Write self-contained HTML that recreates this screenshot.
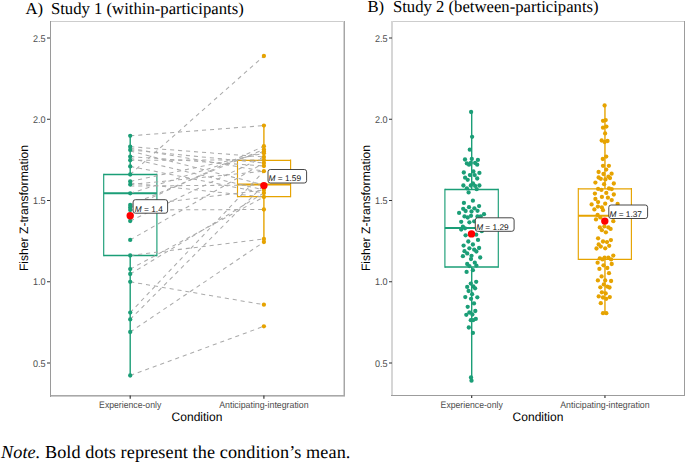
<!DOCTYPE html><html><head><meta charset="utf-8"><style>html,body{margin:0;padding:0;background:#fff;}svg{display:block}text{text-rendering:geometricPrecision}.s{font-family:"Liberation Sans",sans-serif}.r{font-family:"Liberation Serif",serif}</style></head><body>
<svg width="685" height="462" viewBox="0 0 685 462">
<rect width="685" height="462" fill="#fff"/>
<rect x="50" y="21" width="295" height="1" fill="#cdcdcd"/>
<rect x="343" y="21" width="1" height="375" fill="#d4d4d4"/>
<rect x="344" y="21" width="1" height="376" fill="#a6a6a6"/>
<rect x="50" y="395" width="295" height="1" fill="#a8a8a8"/>
<rect x="50" y="396" width="295" height="1" fill="#cbcbcb"/>
<rect x="50" y="21" width="1" height="376" fill="#9a9a9a"/>
<line x1="47" y1="38.00" x2="50" y2="38.00" stroke="#333" stroke-width="1"/>
<text x="45.5" y="41.65" text-anchor="end" class="s" font-size="9.7" textLength="12.6" lengthAdjust="spacingAndGlyphs" fill="#4d4d4d">2.5</text>
<line x1="47" y1="119.25" x2="50" y2="119.25" stroke="#333" stroke-width="1"/>
<text x="45.5" y="122.90" text-anchor="end" class="s" font-size="9.7" textLength="12.6" lengthAdjust="spacingAndGlyphs" fill="#4d4d4d">2.0</text>
<line x1="47" y1="200.50" x2="50" y2="200.50" stroke="#333" stroke-width="1"/>
<text x="45.5" y="204.15" text-anchor="end" class="s" font-size="9.7" textLength="12.6" lengthAdjust="spacingAndGlyphs" fill="#4d4d4d">1.5</text>
<line x1="47" y1="281.75" x2="50" y2="281.75" stroke="#333" stroke-width="1"/>
<text x="45.5" y="285.40" text-anchor="end" class="s" font-size="9.7" textLength="12.6" lengthAdjust="spacingAndGlyphs" fill="#4d4d4d">1.0</text>
<line x1="47" y1="363.00" x2="50" y2="363.00" stroke="#333" stroke-width="1"/>
<text x="45.5" y="366.65" text-anchor="end" class="s" font-size="9.7" textLength="12.6" lengthAdjust="spacingAndGlyphs" fill="#4d4d4d">0.5</text>
<line x1="130.2" y1="395.5" x2="130.2" y2="398.8" stroke="#2a2a2a" stroke-width="1.1"/>
<text x="130.2" y="408.0" text-anchor="middle" class="s" font-size="9.4" textLength="62.2" lengthAdjust="spacingAndGlyphs" fill="#4d4d4d">Experience-only</text>
<line x1="263.9" y1="395.5" x2="263.9" y2="398.8" stroke="#2a2a2a" stroke-width="1.1"/>
<text x="263.9" y="408.0" text-anchor="middle" class="s" font-size="9.4" textLength="89.4" lengthAdjust="spacingAndGlyphs" fill="#4d4d4d">Anticipating-integration</text>
<text x="197.0" y="421.2" text-anchor="middle" class="s" font-size="12.3" textLength="50.8" lengthAdjust="spacingAndGlyphs" fill="#000">Condition</text>
<text transform="translate(28.2,208) rotate(-90)" text-anchor="middle" class="s" font-size="12.15" fill="#000">Fisher Z-transformation</text>
<text x="25.4" y="13.6" class="r" font-size="16.7" fill="#000">A)</text>
<text x="50.9" y="13.6" class="r" font-size="16.7" fill="#000">Study 1 (within-participants)</text>
<rect x="391" y="21" width="294" height="1" fill="#cdcdcd"/>
<rect x="684" y="21" width="1" height="375" fill="#9c9c9c"/>
<rect x="391" y="395" width="294" height="1" fill="#9c9c9c"/>
<rect x="391" y="21" width="2" height="374" fill="#d6d6d6"/>
<line x1="389" y1="38.00" x2="392" y2="38.00" stroke="#333" stroke-width="1"/>
<text x="387.5" y="41.65" text-anchor="end" class="s" font-size="9.7" textLength="12.6" lengthAdjust="spacingAndGlyphs" fill="#4d4d4d">2.5</text>
<line x1="389" y1="119.25" x2="392" y2="119.25" stroke="#333" stroke-width="1"/>
<text x="387.5" y="122.90" text-anchor="end" class="s" font-size="9.7" textLength="12.6" lengthAdjust="spacingAndGlyphs" fill="#4d4d4d">2.0</text>
<line x1="389" y1="200.50" x2="392" y2="200.50" stroke="#333" stroke-width="1"/>
<text x="387.5" y="204.15" text-anchor="end" class="s" font-size="9.7" textLength="12.6" lengthAdjust="spacingAndGlyphs" fill="#4d4d4d">1.5</text>
<line x1="389" y1="281.75" x2="392" y2="281.75" stroke="#333" stroke-width="1"/>
<text x="387.5" y="285.40" text-anchor="end" class="s" font-size="9.7" textLength="12.6" lengthAdjust="spacingAndGlyphs" fill="#4d4d4d">1.0</text>
<line x1="389" y1="363.00" x2="392" y2="363.00" stroke="#333" stroke-width="1"/>
<text x="387.5" y="366.65" text-anchor="end" class="s" font-size="9.7" textLength="12.6" lengthAdjust="spacingAndGlyphs" fill="#4d4d4d">0.5</text>
<line x1="471.7" y1="395.5" x2="471.7" y2="398.0" stroke="#2a2a2a" stroke-width="1.1"/>
<text x="471.7" y="408.0" text-anchor="middle" class="s" font-size="9.4" textLength="62.2" lengthAdjust="spacingAndGlyphs" fill="#4d4d4d">Experience-only</text>
<line x1="604.95" y1="395.5" x2="604.95" y2="398.0" stroke="#2a2a2a" stroke-width="1.1"/>
<text x="604.95" y="408.0" text-anchor="middle" class="s" font-size="9.4" textLength="89.4" lengthAdjust="spacingAndGlyphs" fill="#4d4d4d">Anticipating-integration</text>
<text x="538.0" y="421.2" text-anchor="middle" class="s" font-size="12.3" textLength="50.8" lengthAdjust="spacingAndGlyphs" fill="#000">Condition</text>
<text transform="translate(370.2,208) rotate(-90)" text-anchor="middle" class="s" font-size="12.15" fill="#000">Fisher Z-transformation</text>
<text x="367.4" y="12.1" class="r" font-size="16.7" fill="#000">B)</text>
<text x="392.9" y="12.1" class="r" font-size="16.7" fill="#000">Study 2 (between-participants)</text>
<line x1="130.2" y1="135.8" x2="130.2" y2="174.5" stroke="#1b9e77" stroke-width="1.4"/>
<line x1="130.2" y1="255.5" x2="130.2" y2="375.5" stroke="#1b9e77" stroke-width="1.4"/>
<path d="M103.7,174.5H156.9M103.7,255.5H156.9" stroke="#1b9e77" stroke-width="1.3" fill="none"/>
<path d="M103.7,173.8V256.2M156.9,173.8V256.2" stroke="#1b9e77" stroke-width="1.15" fill="none"/>
<line x1="103.7" y1="193.2" x2="156.9" y2="193.2" stroke="#1b9e77" stroke-width="2.1"/>
<line x1="263.9" y1="125.6" x2="263.9" y2="160.3" stroke="#e6a300" stroke-width="1.4"/>
<line x1="263.9" y1="196.6" x2="263.9" y2="242" stroke="#e6a300" stroke-width="1.4"/>
<path d="M237.5,160.3H290.6M237.5,196.6H290.6" stroke="#e6a300" stroke-width="1.3" fill="none"/>
<path d="M237.5,159.60000000000002V197.29999999999998M290.6,159.60000000000002V197.29999999999998" stroke="#e6a300" stroke-width="1.15" fill="none"/>
<line x1="237.5" y1="184.5" x2="290.6" y2="184.5" stroke="#e6a300" stroke-width="2.1"/>
<line x1="130.2" y1="135.8" x2="263.9" y2="125.6" stroke="#ababab" stroke-width="1.05" stroke-dasharray="4.1,3.9"/>
<line x1="130.2" y1="146.7" x2="263.9" y2="157" stroke="#ababab" stroke-width="1.05" stroke-dasharray="4.1,3.9"/>
<line x1="130.2" y1="149.9" x2="263.9" y2="163" stroke="#ababab" stroke-width="1.05" stroke-dasharray="4.1,3.9"/>
<line x1="130.2" y1="156.6" x2="263.9" y2="166" stroke="#ababab" stroke-width="1.05" stroke-dasharray="4.1,3.9"/>
<line x1="130.2" y1="160.2" x2="263.9" y2="160" stroke="#ababab" stroke-width="1.05" stroke-dasharray="4.1,3.9"/>
<line x1="130.2" y1="166.4" x2="263.9" y2="193" stroke="#ababab" stroke-width="1.05" stroke-dasharray="4.1,3.9"/>
<line x1="130.2" y1="174.5" x2="263.9" y2="56" stroke="#ababab" stroke-width="1.05" stroke-dasharray="4.1,3.9"/>
<line x1="130.2" y1="181.4" x2="263.9" y2="153.3" stroke="#ababab" stroke-width="1.05" stroke-dasharray="4.1,3.9"/>
<line x1="130.2" y1="184.6" x2="263.9" y2="171.2" stroke="#ababab" stroke-width="1.05" stroke-dasharray="4.1,3.9"/>
<line x1="130.2" y1="193.3" x2="263.9" y2="151.5" stroke="#ababab" stroke-width="1.05" stroke-dasharray="4.1,3.9"/>
<line x1="130.2" y1="205" x2="263.9" y2="149.4" stroke="#ababab" stroke-width="1.05" stroke-dasharray="4.1,3.9"/>
<line x1="130.2" y1="207.5" x2="263.9" y2="146.2" stroke="#ababab" stroke-width="1.05" stroke-dasharray="4.1,3.9"/>
<line x1="130.2" y1="210" x2="263.9" y2="209.5" stroke="#ababab" stroke-width="1.05" stroke-dasharray="4.1,3.9"/>
<line x1="130.2" y1="221" x2="263.9" y2="157" stroke="#ababab" stroke-width="1.05" stroke-dasharray="4.1,3.9"/>
<line x1="130.2" y1="239.9" x2="263.9" y2="163" stroke="#ababab" stroke-width="1.05" stroke-dasharray="4.1,3.9"/>
<line x1="130.2" y1="255.5" x2="263.9" y2="239" stroke="#ababab" stroke-width="1.05" stroke-dasharray="4.1,3.9"/>
<line x1="130.2" y1="269.1" x2="263.9" y2="197" stroke="#ababab" stroke-width="1.05" stroke-dasharray="4.1,3.9"/>
<line x1="130.2" y1="274" x2="263.9" y2="193" stroke="#ababab" stroke-width="1.05" stroke-dasharray="4.1,3.9"/>
<line x1="130.2" y1="281.8" x2="263.9" y2="304.7" stroke="#ababab" stroke-width="1.05" stroke-dasharray="4.1,3.9"/>
<line x1="130.2" y1="312.6" x2="263.9" y2="171.2" stroke="#ababab" stroke-width="1.05" stroke-dasharray="4.1,3.9"/>
<line x1="130.2" y1="319.4" x2="263.9" y2="185" stroke="#ababab" stroke-width="1.05" stroke-dasharray="4.1,3.9"/>
<line x1="130.2" y1="332" x2="263.9" y2="242" stroke="#ababab" stroke-width="1.05" stroke-dasharray="4.1,3.9"/>
<line x1="130.2" y1="375.5" x2="263.9" y2="326.3" stroke="#ababab" stroke-width="1.05" stroke-dasharray="4.1,3.9"/>
<line x1="130.2" y1="148.3" x2="263.9" y2="171.2" stroke="#ababab" stroke-width="1.05" stroke-dasharray="4.1,3.9"/>
<line x1="130.2" y1="151" x2="263.9" y2="185" stroke="#ababab" stroke-width="1.05" stroke-dasharray="4.1,3.9"/>
<line x1="130.2" y1="158.3" x2="263.9" y2="190" stroke="#ababab" stroke-width="1.05" stroke-dasharray="4.1,3.9"/>
<line x1="130.2" y1="183" x2="263.9" y2="197" stroke="#ababab" stroke-width="1.05" stroke-dasharray="4.1,3.9"/>
<line x1="130.2" y1="186" x2="263.9" y2="185" stroke="#ababab" stroke-width="1.05" stroke-dasharray="4.1,3.9"/>
<line x1="130.2" y1="206.2" x2="263.9" y2="190" stroke="#ababab" stroke-width="1.05" stroke-dasharray="4.1,3.9"/>
<circle cx="130.2" cy="135.8" r="2.15" fill="#1b9e77"/>
<circle cx="130.2" cy="146.7" r="2.15" fill="#1b9e77"/>
<circle cx="130.2" cy="149.9" r="2.15" fill="#1b9e77"/>
<circle cx="130.2" cy="156.6" r="2.15" fill="#1b9e77"/>
<circle cx="130.2" cy="160.2" r="2.15" fill="#1b9e77"/>
<circle cx="130.2" cy="166.4" r="2.15" fill="#1b9e77"/>
<circle cx="130.2" cy="174.5" r="2.15" fill="#1b9e77"/>
<circle cx="130.2" cy="181.4" r="2.15" fill="#1b9e77"/>
<circle cx="130.2" cy="184.6" r="2.15" fill="#1b9e77"/>
<circle cx="130.2" cy="193.3" r="2.15" fill="#1b9e77"/>
<circle cx="130.2" cy="205" r="2.15" fill="#1b9e77"/>
<circle cx="130.2" cy="207.5" r="2.15" fill="#1b9e77"/>
<circle cx="130.2" cy="210" r="2.15" fill="#1b9e77"/>
<circle cx="130.2" cy="221" r="2.15" fill="#1b9e77"/>
<circle cx="130.2" cy="239.9" r="2.15" fill="#1b9e77"/>
<circle cx="130.2" cy="255.5" r="2.15" fill="#1b9e77"/>
<circle cx="130.2" cy="269.1" r="2.15" fill="#1b9e77"/>
<circle cx="130.2" cy="274" r="2.15" fill="#1b9e77"/>
<circle cx="130.2" cy="281.8" r="2.15" fill="#1b9e77"/>
<circle cx="130.2" cy="312.6" r="2.15" fill="#1b9e77"/>
<circle cx="130.2" cy="319.4" r="2.15" fill="#1b9e77"/>
<circle cx="130.2" cy="332" r="2.15" fill="#1b9e77"/>
<circle cx="130.2" cy="375.5" r="2.15" fill="#1b9e77"/>
<circle cx="263.9" cy="56" r="2.15" fill="#e6a300"/>
<circle cx="263.9" cy="125.6" r="2.15" fill="#e6a300"/>
<circle cx="263.9" cy="146.2" r="2.15" fill="#e6a300"/>
<circle cx="263.9" cy="149.4" r="2.15" fill="#e6a300"/>
<circle cx="263.9" cy="151.5" r="2.15" fill="#e6a300"/>
<circle cx="263.9" cy="153.3" r="2.15" fill="#e6a300"/>
<circle cx="263.9" cy="157" r="2.15" fill="#e6a300"/>
<circle cx="263.9" cy="160" r="2.15" fill="#e6a300"/>
<circle cx="263.9" cy="163" r="2.15" fill="#e6a300"/>
<circle cx="263.9" cy="166" r="2.15" fill="#e6a300"/>
<circle cx="263.9" cy="171.2" r="2.15" fill="#e6a300"/>
<circle cx="263.9" cy="185" r="2.15" fill="#e6a300"/>
<circle cx="263.9" cy="190" r="2.15" fill="#e6a300"/>
<circle cx="263.9" cy="193" r="2.15" fill="#e6a300"/>
<circle cx="263.9" cy="197" r="2.15" fill="#e6a300"/>
<circle cx="263.9" cy="209.5" r="2.15" fill="#e6a300"/>
<circle cx="263.9" cy="239" r="2.15" fill="#e6a300"/>
<circle cx="263.9" cy="242" r="2.15" fill="#e6a300"/>
<circle cx="263.9" cy="304.7" r="2.15" fill="#e6a300"/>
<circle cx="263.9" cy="326.3" r="2.15" fill="#e6a300"/>
<circle cx="130.2" cy="215.8" r="3.7" fill="#ff0000"/>
<circle cx="263.9" cy="185.6" r="3.7" fill="#ff0000"/>
<rect x="133.10" y="199.70" width="34.50" height="13.5" rx="2.3" fill="#fff" stroke="#333" stroke-width="0.9"/>
<text x="134.85" y="211.50" class="s" font-size="8.3" fill="#111"><tspan font-style="italic">M</tspan> = 1.4</text>
<rect x="268.00" y="169.50" width="38.60" height="13.5" rx="2.3" fill="#fff" stroke="#333" stroke-width="0.9"/>
<text x="268.55" y="181.30" class="s" font-size="8.3" fill="#111"><tspan font-style="italic">M</tspan> = 1.59</text>
<line x1="471.7" y1="112" x2="471.7" y2="189.5" stroke="#1b9e77" stroke-width="1.4"/>
<line x1="471.7" y1="267" x2="471.7" y2="380.7" stroke="#1b9e77" stroke-width="1.4"/>
<path d="M444.9,189.5H498.3M444.9,267H498.3" stroke="#1b9e77" stroke-width="1.3" fill="none"/>
<path d="M444.9,188.8V267.7M498.3,188.8V267.7" stroke="#1b9e77" stroke-width="1.15" fill="none"/>
<line x1="444.9" y1="228" x2="498.3" y2="228" stroke="#1b9e77" stroke-width="2.1"/>
<line x1="604.95" y1="105.5" x2="604.95" y2="188.8" stroke="#e6a300" stroke-width="1.4"/>
<line x1="604.95" y1="259.4" x2="604.95" y2="313.2" stroke="#e6a300" stroke-width="1.4"/>
<path d="M578.3,188.8H631.4M578.3,259.4H631.4" stroke="#e6a300" stroke-width="1.3" fill="none"/>
<path d="M578.3,188.10000000000002V260.09999999999997M631.4,188.10000000000002V260.09999999999997" stroke="#e6a300" stroke-width="1.15" fill="none"/>
<line x1="578.3" y1="215.7" x2="631.4" y2="215.7" stroke="#e6a300" stroke-width="2.1"/>
<circle cx="471.1" cy="112" r="2.15" fill="#1b9e77"/>
<circle cx="472.1" cy="136.8" r="2.15" fill="#1b9e77"/>
<circle cx="469.8" cy="149.7" r="2.15" fill="#1b9e77"/>
<circle cx="465" cy="159.5" r="2.15" fill="#1b9e77"/>
<circle cx="471.8" cy="158.9" r="2.15" fill="#1b9e77"/>
<circle cx="477.9" cy="159.9" r="2.15" fill="#1b9e77"/>
<circle cx="466.9" cy="163.4" r="2.15" fill="#1b9e77"/>
<circle cx="469" cy="164.7" r="2.15" fill="#1b9e77"/>
<circle cx="470.8" cy="163" r="2.15" fill="#1b9e77"/>
<circle cx="475.1" cy="163" r="2.15" fill="#1b9e77"/>
<circle cx="477.2" cy="164.7" r="2.15" fill="#1b9e77"/>
<circle cx="463.8" cy="172.5" r="2.15" fill="#1b9e77"/>
<circle cx="473.4" cy="171.5" r="2.15" fill="#1b9e77"/>
<circle cx="479.4" cy="172.9" r="2.15" fill="#1b9e77"/>
<circle cx="469.9" cy="175.1" r="2.15" fill="#1b9e77"/>
<circle cx="474.7" cy="175.1" r="2.15" fill="#1b9e77"/>
<circle cx="465.1" cy="177.7" r="2.15" fill="#1b9e77"/>
<circle cx="467.7" cy="179.8" r="2.15" fill="#1b9e77"/>
<circle cx="477.2" cy="178.5" r="2.15" fill="#1b9e77"/>
<circle cx="463.4" cy="185.5" r="2.15" fill="#1b9e77"/>
<circle cx="470.8" cy="185.5" r="2.15" fill="#1b9e77"/>
<circle cx="472.9" cy="183.3" r="2.15" fill="#1b9e77"/>
<circle cx="475.1" cy="185.9" r="2.15" fill="#1b9e77"/>
<circle cx="479.4" cy="185.5" r="2.15" fill="#1b9e77"/>
<circle cx="466.9" cy="188.3" r="2.15" fill="#1b9e77"/>
<circle cx="476.7" cy="189.2" r="2.15" fill="#1b9e77"/>
<circle cx="468.6" cy="192.4" r="2.15" fill="#1b9e77"/>
<circle cx="472.9" cy="200.7" r="2.15" fill="#1b9e77"/>
<circle cx="463.9" cy="202.9" r="2.15" fill="#1b9e77"/>
<circle cx="469" cy="207.2" r="2.15" fill="#1b9e77"/>
<circle cx="479.1" cy="206.1" r="2.15" fill="#1b9e77"/>
<circle cx="463.2" cy="208.8" r="2.15" fill="#1b9e77"/>
<circle cx="465.6" cy="211" r="2.15" fill="#1b9e77"/>
<circle cx="474.4" cy="208.3" r="2.15" fill="#1b9e77"/>
<circle cx="459.1" cy="212.9" r="2.15" fill="#1b9e77"/>
<circle cx="471.5" cy="211.5" r="2.15" fill="#1b9e77"/>
<circle cx="477.5" cy="210.8" r="2.15" fill="#1b9e77"/>
<circle cx="464.5" cy="216.4" r="2.15" fill="#1b9e77"/>
<circle cx="467.7" cy="217.5" r="2.15" fill="#1b9e77"/>
<circle cx="471" cy="215.8" r="2.15" fill="#1b9e77"/>
<circle cx="477.5" cy="216.4" r="2.15" fill="#1b9e77"/>
<circle cx="484" cy="214.2" r="2.15" fill="#1b9e77"/>
<circle cx="480.7" cy="216.4" r="2.15" fill="#1b9e77"/>
<circle cx="461.2" cy="221.8" r="2.15" fill="#1b9e77"/>
<circle cx="469.4" cy="222.3" r="2.15" fill="#1b9e77"/>
<circle cx="474.2" cy="221.3" r="2.15" fill="#1b9e77"/>
<circle cx="462.9" cy="226.7" r="2.15" fill="#1b9e77"/>
<circle cx="461.2" cy="229.6" r="2.15" fill="#1b9e77"/>
<circle cx="465" cy="228.3" r="2.15" fill="#1b9e77"/>
<circle cx="481.8" cy="231.2" r="2.15" fill="#1b9e77"/>
<circle cx="465.6" cy="235.3" r="2.15" fill="#1b9e77"/>
<circle cx="476.2" cy="234.7" r="2.15" fill="#1b9e77"/>
<circle cx="468.3" cy="241.5" r="2.15" fill="#1b9e77"/>
<circle cx="478" cy="239.9" r="2.15" fill="#1b9e77"/>
<circle cx="463.6" cy="245.6" r="2.15" fill="#1b9e77"/>
<circle cx="472.9" cy="244.5" r="2.15" fill="#1b9e77"/>
<circle cx="469.4" cy="248.3" r="2.15" fill="#1b9e77"/>
<circle cx="479.1" cy="248" r="2.15" fill="#1b9e77"/>
<circle cx="464.5" cy="251.2" r="2.15" fill="#1b9e77"/>
<circle cx="474.2" cy="249.7" r="2.15" fill="#1b9e77"/>
<circle cx="467.2" cy="253.4" r="2.15" fill="#1b9e77"/>
<circle cx="476.4" cy="251.5" r="2.15" fill="#1b9e77"/>
<circle cx="462.9" cy="256.2" r="2.15" fill="#1b9e77"/>
<circle cx="471.5" cy="255.8" r="2.15" fill="#1b9e77"/>
<circle cx="480.2" cy="257.5" r="2.15" fill="#1b9e77"/>
<circle cx="471" cy="259.1" r="2.15" fill="#1b9e77"/>
<circle cx="467.2" cy="264" r="2.15" fill="#1b9e77"/>
<circle cx="474.8" cy="262.7" r="2.15" fill="#1b9e77"/>
<circle cx="469.4" cy="266.1" r="2.15" fill="#1b9e77"/>
<circle cx="476.4" cy="265.6" r="2.15" fill="#1b9e77"/>
<circle cx="466.6" cy="271.9" r="2.15" fill="#1b9e77"/>
<circle cx="472.9" cy="270.2" r="2.15" fill="#1b9e77"/>
<circle cx="476.2" cy="281.8" r="2.15" fill="#1b9e77"/>
<circle cx="470.8" cy="283.6" r="2.15" fill="#1b9e77"/>
<circle cx="467.2" cy="286.9" r="2.15" fill="#1b9e77"/>
<circle cx="473.4" cy="286.4" r="2.15" fill="#1b9e77"/>
<circle cx="475.1" cy="288.3" r="2.15" fill="#1b9e77"/>
<circle cx="468.6" cy="291" r="2.15" fill="#1b9e77"/>
<circle cx="472.1" cy="294.2" r="2.15" fill="#1b9e77"/>
<circle cx="465.3" cy="297.1" r="2.15" fill="#1b9e77"/>
<circle cx="471" cy="298.8" r="2.15" fill="#1b9e77"/>
<circle cx="477.3" cy="297.3" r="2.15" fill="#1b9e77"/>
<circle cx="474" cy="303.4" r="2.15" fill="#1b9e77"/>
<circle cx="467.7" cy="306.8" r="2.15" fill="#1b9e77"/>
<circle cx="475.3" cy="311" r="2.15" fill="#1b9e77"/>
<circle cx="469.4" cy="312.5" r="2.15" fill="#1b9e77"/>
<circle cx="466.3" cy="314.8" r="2.15" fill="#1b9e77"/>
<circle cx="472.4" cy="314.5" r="2.15" fill="#1b9e77"/>
<circle cx="470.8" cy="320.2" r="2.15" fill="#1b9e77"/>
<circle cx="473.1" cy="320.2" r="2.15" fill="#1b9e77"/>
<circle cx="475.8" cy="318.9" r="2.15" fill="#1b9e77"/>
<circle cx="468.8" cy="327.5" r="2.15" fill="#1b9e77"/>
<circle cx="472.9" cy="332.9" r="2.15" fill="#1b9e77"/>
<circle cx="471" cy="377.5" r="2.15" fill="#1b9e77"/>
<circle cx="471.5" cy="380.7" r="2.15" fill="#1b9e77"/>
<circle cx="604.6" cy="105.5" r="2.15" fill="#e6a300"/>
<circle cx="603" cy="120.8" r="2.15" fill="#e6a300"/>
<circle cx="605.7" cy="120.1" r="2.15" fill="#e6a300"/>
<circle cx="603" cy="127.7" r="2.15" fill="#e6a300"/>
<circle cx="606.4" cy="126.6" r="2.15" fill="#e6a300"/>
<circle cx="605.1" cy="133.4" r="2.15" fill="#e6a300"/>
<circle cx="601.7" cy="140.5" r="2.15" fill="#e6a300"/>
<circle cx="607.5" cy="141" r="2.15" fill="#e6a300"/>
<circle cx="604.6" cy="142" r="2.15" fill="#e6a300"/>
<circle cx="606.2" cy="156.6" r="2.15" fill="#e6a300"/>
<circle cx="602.8" cy="159" r="2.15" fill="#e6a300"/>
<circle cx="603" cy="165.8" r="2.15" fill="#e6a300"/>
<circle cx="608.9" cy="165.8" r="2.15" fill="#e6a300"/>
<circle cx="606.2" cy="169.6" r="2.15" fill="#e6a300"/>
<circle cx="598.6" cy="172" r="2.15" fill="#e6a300"/>
<circle cx="603.5" cy="174" r="2.15" fill="#e6a300"/>
<circle cx="611.6" cy="173.7" r="2.15" fill="#e6a300"/>
<circle cx="598.6" cy="177.5" r="2.15" fill="#e6a300"/>
<circle cx="600.8" cy="178.8" r="2.15" fill="#e6a300"/>
<circle cx="608.4" cy="176.7" r="2.15" fill="#e6a300"/>
<circle cx="610" cy="178.1" r="2.15" fill="#e6a300"/>
<circle cx="605.4" cy="179.4" r="2.15" fill="#e6a300"/>
<circle cx="595.4" cy="182.6" r="2.15" fill="#e6a300"/>
<circle cx="613.8" cy="183.5" r="2.15" fill="#e6a300"/>
<circle cx="604.1" cy="184.2" r="2.15" fill="#e6a300"/>
<circle cx="598.1" cy="188.9" r="2.15" fill="#e6a300"/>
<circle cx="601.4" cy="189.9" r="2.15" fill="#e6a300"/>
<circle cx="609" cy="188.5" r="2.15" fill="#e6a300"/>
<circle cx="611.7" cy="189.1" r="2.15" fill="#e6a300"/>
<circle cx="594.9" cy="193.6" r="2.15" fill="#e6a300"/>
<circle cx="606.3" cy="192.9" r="2.15" fill="#e6a300"/>
<circle cx="613.8" cy="194.5" r="2.15" fill="#e6a300"/>
<circle cx="601.9" cy="196.9" r="2.15" fill="#e6a300"/>
<circle cx="595.4" cy="199" r="2.15" fill="#e6a300"/>
<circle cx="607.9" cy="197.7" r="2.15" fill="#e6a300"/>
<circle cx="611.7" cy="200.1" r="2.15" fill="#e6a300"/>
<circle cx="598.1" cy="202.1" r="2.15" fill="#e6a300"/>
<circle cx="591.6" cy="204.4" r="2.15" fill="#e6a300"/>
<circle cx="605.2" cy="203.7" r="2.15" fill="#e6a300"/>
<circle cx="617.6" cy="204" r="2.15" fill="#e6a300"/>
<circle cx="597.9" cy="206.6" r="2.15" fill="#e6a300"/>
<circle cx="601.9" cy="207.5" r="2.15" fill="#e6a300"/>
<circle cx="594.4" cy="209.4" r="2.15" fill="#e6a300"/>
<circle cx="603" cy="210.2" r="2.15" fill="#e6a300"/>
<circle cx="597.6" cy="215" r="2.15" fill="#e6a300"/>
<circle cx="600.3" cy="217.4" r="2.15" fill="#e6a300"/>
<circle cx="596" cy="219.4" r="2.15" fill="#e6a300"/>
<circle cx="613.3" cy="221.2" r="2.15" fill="#e6a300"/>
<circle cx="599.8" cy="227.4" r="2.15" fill="#e6a300"/>
<circle cx="604.4" cy="226.4" r="2.15" fill="#e6a300"/>
<circle cx="608.4" cy="227.4" r="2.15" fill="#e6a300"/>
<circle cx="610.6" cy="228.9" r="2.15" fill="#e6a300"/>
<circle cx="601.9" cy="230.2" r="2.15" fill="#e6a300"/>
<circle cx="605.9" cy="232.3" r="2.15" fill="#e6a300"/>
<circle cx="598.1" cy="238.3" r="2.15" fill="#e6a300"/>
<circle cx="610.9" cy="240.1" r="2.15" fill="#e6a300"/>
<circle cx="603" cy="241.5" r="2.15" fill="#e6a300"/>
<circle cx="607" cy="242.1" r="2.15" fill="#e6a300"/>
<circle cx="598.7" cy="244.4" r="2.15" fill="#e6a300"/>
<circle cx="600.8" cy="246.6" r="2.15" fill="#e6a300"/>
<circle cx="609.2" cy="245.8" r="2.15" fill="#e6a300"/>
<circle cx="596.5" cy="248.5" r="2.15" fill="#e6a300"/>
<circle cx="605.2" cy="248.3" r="2.15" fill="#e6a300"/>
<circle cx="613.3" cy="255.6" r="2.15" fill="#e6a300"/>
<circle cx="599.8" cy="258.3" r="2.15" fill="#e6a300"/>
<circle cx="602.5" cy="259.4" r="2.15" fill="#e6a300"/>
<circle cx="604.6" cy="257.7" r="2.15" fill="#e6a300"/>
<circle cx="608.4" cy="257.7" r="2.15" fill="#e6a300"/>
<circle cx="611.1" cy="259.4" r="2.15" fill="#e6a300"/>
<circle cx="597.6" cy="262.7" r="2.15" fill="#e6a300"/>
<circle cx="611.7" cy="264" r="2.15" fill="#e6a300"/>
<circle cx="603.5" cy="265.3" r="2.15" fill="#e6a300"/>
<circle cx="599.4" cy="268.9" r="2.15" fill="#e6a300"/>
<circle cx="607.3" cy="268" r="2.15" fill="#e6a300"/>
<circle cx="609" cy="273.2" r="2.15" fill="#e6a300"/>
<circle cx="601.6" cy="276.4" r="2.15" fill="#e6a300"/>
<circle cx="597.9" cy="280.4" r="2.15" fill="#e6a300"/>
<circle cx="605.2" cy="280.4" r="2.15" fill="#e6a300"/>
<circle cx="611.1" cy="281" r="2.15" fill="#e6a300"/>
<circle cx="603.8" cy="284.4" r="2.15" fill="#e6a300"/>
<circle cx="600.3" cy="287.3" r="2.15" fill="#e6a300"/>
<circle cx="607.3" cy="286.6" r="2.15" fill="#e6a300"/>
<circle cx="609.5" cy="287.5" r="2.15" fill="#e6a300"/>
<circle cx="601.9" cy="292.3" r="2.15" fill="#e6a300"/>
<circle cx="605.7" cy="293.4" r="2.15" fill="#e6a300"/>
<circle cx="598.7" cy="296.4" r="2.15" fill="#e6a300"/>
<circle cx="603" cy="297.5" r="2.15" fill="#e6a300"/>
<circle cx="606.3" cy="298.8" r="2.15" fill="#e6a300"/>
<circle cx="609.8" cy="297.1" r="2.15" fill="#e6a300"/>
<circle cx="600.8" cy="303.2" r="2.15" fill="#e6a300"/>
<circle cx="603" cy="313.2" r="2.15" fill="#e6a300"/>
<circle cx="606.3" cy="313.2" r="2.15" fill="#e6a300"/>
<circle cx="471.5" cy="233.9" r="3.7" fill="#ff0000"/>
<circle cx="604.8" cy="221.1" r="3.7" fill="#ff0000"/>
<rect x="475.30" y="217.80" width="38.80" height="13.5" rx="2.3" fill="#fff" stroke="#333" stroke-width="0.9"/>
<text x="476.15" y="229.60" class="s" font-size="8.3" fill="#111"><tspan font-style="italic">M</tspan> = 1.29</text>
<rect x="608.80" y="205.00" width="38.80" height="13.5" rx="2.3" fill="#fff" stroke="#333" stroke-width="0.9"/>
<text x="609.45" y="216.80" class="s" font-size="8.3" fill="#111"><tspan font-style="italic">M</tspan> = 1.37</text>
<text x="1" y="457.6" class="r" font-size="18.2" textLength="349.4" lengthAdjust="spacing" fill="#000"><tspan font-style="italic">Note.</tspan> Bold dots represent the condition’s mean.</text>
</svg></body></html>
